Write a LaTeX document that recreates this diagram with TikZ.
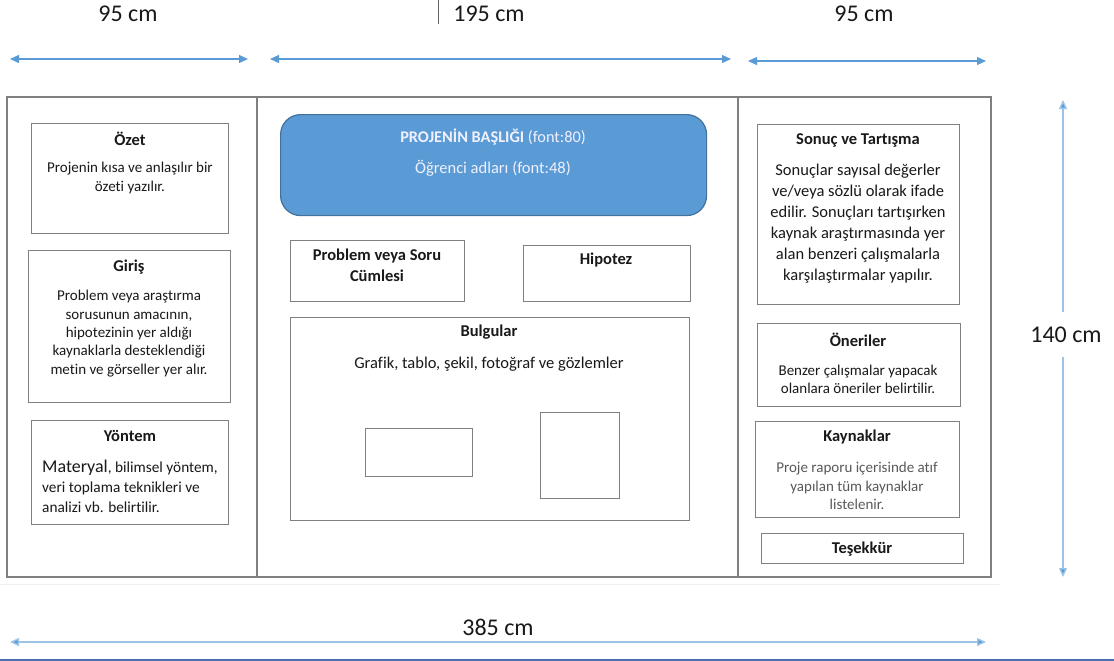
\documentclass[tikz,border=0pt]{standalone}
\usepackage{fontspec}
\setmainfont{Carlito}[Ligatures=NoCommon]
\usetikzlibrary{arrows.meta}
\definecolor{boxline}{HTML}{808080}
\definecolor{dimblue}{HTML}{5B9BD5}
\definecolor{dimlight}{HTML}{9DC3E6}
\definecolor{titlefill}{HTML}{5B9BD5}
\definecolor{titleline}{HTML}{41719C}
\definecolor{bottomline}{HTML}{4A6EB0}
\definecolor{txtgray}{HTML}{595959}
\tikzset{
  box/.style={draw=boxline, line width=1.2pt, anchor=north west, inner sep=0pt},
  frame/.style={draw=boxline, line width=1.2pt},
  hdr/.style={font=\fontsize{16.5}{19}\selectfont\bfseries, inner sep=0pt, text=black!90},
  body/.style={font=\fontsize{15}{18.3}\selectfont, align=center, inner sep=0pt, text=black!90},
  bigbody/.style={font=\fontsize{16.5}{21}\selectfont, align=center, inner sep=0pt, text=black!90},
  dimtxt/.style={font=\fontsize{24}{28}\selectfont, inner sep=0pt, text=black!90},
  dimarrow/.style={draw=dimblue, line width=1.2pt, {Triangle[length=9pt,width=8pt]}-{Triangle[length=9pt,width=8pt]}},
}
\begin{document}
\begin{tikzpicture}[x=1pt,y=-1pt]
\useasboundingbox (0,0) rectangle (1114,661);
\fill[white] (0,0) rectangle (1114,661);

% faint base line and bottom blue rule
\draw[black!6, line width=1pt] (0,584) -- (1000,584);
\fill[bottomline] (0,658.5) rectangle (1114,661);

% dimension labels at top
\node[dimtxt] (d1) at (128,14) {95 cm};
\node[dimtxt] (d2) at (489,14) {195 cm};
\node[dimtxt] (d3) at (864,14) {95 cm};
\draw[black!60, line width=1pt] (438,0) -- (438,24);

% top dimension arrows
\coordinate (a1l) at (10,59);  \coordinate (a1r) at (248,59);
\coordinate (a2l) at (270,59); \coordinate (a2r) at (731,59);
\coordinate (a3l) at (748,61); \coordinate (a3r) at (986,61);
\draw[dimarrow] (a1l) -- (a1r);
\draw[dimarrow] (a2l) -- (a2r);
\draw[dimarrow] (a3l) -- (a3r);

% vertical dimension
\node[dimtxt] (d4) at (1066,335) {140 cm};
\coordinate (vt) at (1063,100);
\coordinate (vb) at (1063,577);
\draw[draw=dimlight, line width=1.4pt, {Triangle[length=9pt,width=8pt,fill=dimblue]}-] (vt) -- (1063,312);
\draw[draw=dimlight, line width=1.4pt, -{Triangle[length=9pt,width=8pt,fill=dimblue]}] (1063,357) -- (vb);

% bottom dimension
\node[dimtxt] (d5) at (498,627) {385 cm};
\coordinate (bl) at (10,642);
\coordinate (br) at (986,642);
\draw[draw=dimlight, line width=1.4pt, {Triangle[length=9pt,width=8pt,fill=dimblue]}-{Triangle[length=9pt,width=8pt,fill=dimblue]}] (bl) -- (br);

% outer frame and dividers
\draw[frame] (7,97) rectangle (991,577);
\draw[frame] (257,97) -- (257,577);
\draw[frame] (738,97) -- (738,577);

% left column
\node[box, minimum width=197pt, minimum height=110pt] (ozet) at (31,123) {};
\node[hdr] (ozett) at (130,139) {Özet};
\node[body] (ozetb) at (130,178) {Projenin kısa ve anlaşılır bir\\özeti yazılır.};

\node[box, minimum width=202pt, minimum height=152pt] (giris) at (28,250) {};
\node[hdr] (girist) at (129,267) {Giriş};
\node[body] (girisb) at (129,333.5) {Problem veya araştırma\\sorusunun amacının,\\hipotezinin yer aldığı\\kaynaklarla desteklendiği\\metin ve görseller yer alır.};

\node[box, minimum width=197pt, minimum height=104pt] (yontem) at (31,420) {};
\node[hdr] (yontemt) at (130,436) {Yöntem};
\node[body, align=left, anchor=west, font=\fontsize{15.3}{20}\selectfont] (yontemb) at (42,486) {{\fontsize{18}{20}\selectfont Materyal}, bilimsel yöntem,\\veri toplama teknikleri ve\\analizi vb. belirtilir.};

% centre column
\node[draw=titleline, fill=titlefill, line width=1.2pt, rounded corners=20pt, anchor=north west, minimum width=426pt, minimum height=101pt, inner sep=0pt] (title) at (280,114) {};
\node[font=\fontsize{16.3}{19}\selectfont, text=white!94!blue, inner sep=0pt] (titlet) at (493,137) {\textbf{PROJENİN BAŞLIĞI} (font:80)};
\node[font=\fontsize{16.5}{19}\selectfont, text=white!94!blue, inner sep=0pt] (titles) at (493,168) {Öğrenci adları (font:48)};

\node[box, minimum width=174pt, minimum height=61pt] (prob) at (290,240) {};
\node[hdr, align=center, font=\fontsize{16.5}{21}\selectfont\bfseries] (probt) at (377,265.5) {Problem veya Soru\\Cümlesi};

\node[box, minimum width=167pt, minimum height=56pt] (hip) at (523,245) {};
\node[hdr] (hipt) at (606,260) {Hipotez};

\node[box, minimum width=399pt, minimum height=203pt] (bulg) at (290,317) {};
\node[hdr] (bulgt) at (489,332) {Bulgular};
\node[body, font=\fontsize{16.5}{18}\selectfont] (bulgb) at (489,364) {Grafik, tablo, şekil, fotoğraf ve gözlemler};
\node[box, minimum width=107pt, minimum height=48pt] (img1) at (365,428) {};
\node[box, minimum width=79pt, minimum height=86pt] (img2) at (540,412) {};

% right column
\node[box, minimum width=202pt, minimum height=180pt] (sonuc) at (757,124) {};
\node[hdr] (sonuct) at (858,140) {Sonuç ve Tartışma};
\node[bigbody] (sonucb) at (858,223.5) {Sonuçlar sayısal değerler\\ve/veya sözlü olarak ifade\\edilir. Sonuçları tartışırken\\kaynak araştırmasında yer\\alan benzeri çalışmalarla\\karşılaştırmalar yapılır.};

\node[box, minimum width=203pt, minimum height=83pt] (oner) at (757,323) {};
\node[hdr] (onert) at (858,340) {Öneriler};
\node[body] (onerb) at (858,379.5) {Benzer çalışmalar yapacak\\olanlara öneriler belirtilir.};

\node[box, minimum width=204pt, minimum height=96pt] (kayn) at (755,421) {};
\node[hdr] (kaynt) at (857,437) {Kaynaklar};
\node[body, text=txtgray] (kaynb) at (857,486) {Proje raporu içerisinde atıf\\yapılan tüm kaynaklar\\listelenir.};

\node[box, minimum width=202pt, minimum height=30pt] (tesek) at (761,533) {};
\node[hdr] (tesekt) at (862,549) {Teşekkür};
\end{tikzpicture}
\end{document}
